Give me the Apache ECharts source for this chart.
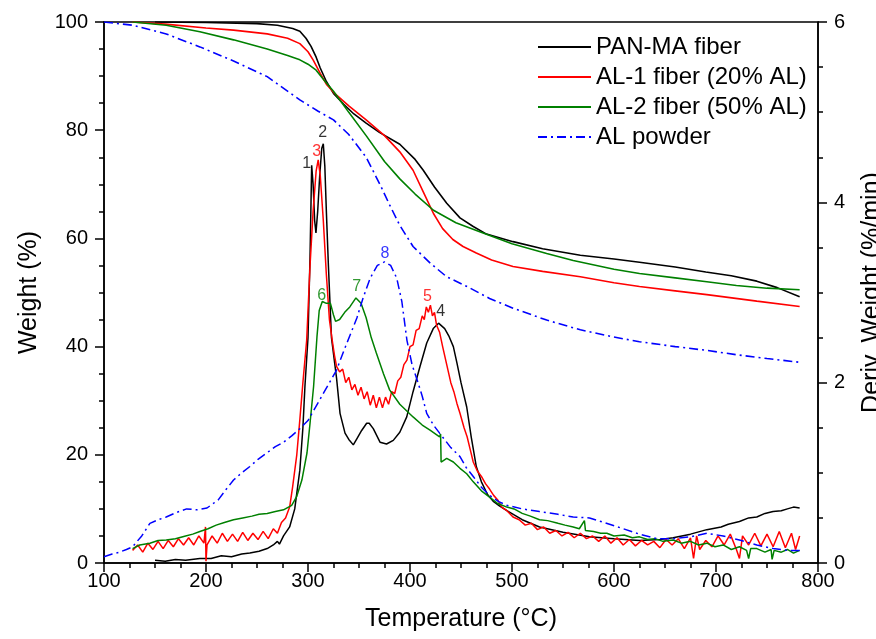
<!DOCTYPE html>
<html><head><meta charset="utf-8">
<script src="https://cdn.jsdelivr.net/npm/echarts@6/dist/echarts.min.js"></script>
<style>html,body{margin:0;padding:0;background:#fff}#c{width:876px;height:639px}</style>
</head><body><div id="c"></div>
<script>
// ---- data ----
const sampleNames = ['PAN-MA fiber', 'AL-1 fiber (20% AL)', 'AL-2 fiber (50% AL)', 'AL powder'];
const xTickValues = [100, 200, 300, 400, 500, 600, 700, 800];
const weightTickValues = [0, 20, 40, 60, 80, 100];
const derivTickValues = [0, 2, 4, 6];

// Weight (%) vs temperature (°C)
const panWeight = [[150,100],[200,99.9],[250,99.7],[270,99.4],[285,98.8],[292,98.3],[298,97],[303,95.5],[308,93.5],[312,91.5],[318,89],[325,86.8],[335,84.8],[345,83],[357,81.3],[370,79.6],[390,77.4],[405,74.6],[413,72.6],[424,69.5],[436,66.5],[449,63.8],[462,62.2],[475,60.8],[501,59.4],[530,58.1],[567,56.9],[600,56.2],[625,55.6],[660,54.7],[690,53.8],[715,53.1],[740,52.1],[760,50.9],[782,49.2]];
const al1Weight = [[128,100],[160,99.6],[200,98.9],[227,98.5],[260,97.8],[280,97],[292,96],[300,94.5],[305,93],[312,90.5],[318,88.5],[325,87],[340,84.5],[357,81.9],[375,79],[390,76],[403,72.6],[413,68.6],[423,64.6],[432,61.8],[442,59.8],[452,58.5],[465,57.3],[480,56.0],[501,54.8],[530,53.9],[567,52.9],[600,51.8],[625,51.1],[660,50.3],[691,49.6],[740,48.4],[782,47.4]];
const al2Weight = [[128,100],[161,99.4],[194,98.2],[227,96.7],[260,95],[280,93.8],[292,93],[300,92.2],[308,91.1],[316,89.2],[325,87.2],[340,83.3],[357,79.0],[375,74.2],[390,71],[405,68.2],[423,65.2],[445,62.9],[469,61.2],[500,59],[534,57.2],[560,55.9],[600,54.3],[625,53.5],[660,52.7],[691,52],[720,51.3],[750,50.8],[782,50.5]];
const alpWeight = [[100,100],[128,99.4],[161,97.8],[194,95.4],[227,92.8],[260,89.9],[292,85.6],[310,83.5],[325,81.9],[340,79.2],[357,75.0],[371,69.8],[380,66.2],[390,62.4],[403,58.5],[420,55.4],[436,52.9],[456,51.1],[478,48.9],[501,47.1],[534,44.9],[567,43.1],[599,41.8],[625,40.9],[660,40.0],[691,39.3],[720,38.5],[750,37.8],[782,37.1]];

// Derivative weight (%/min) vs temperature (°C)
const panDeriv = [[150,0.03],[160,0.02],[170,0.04],[180,0.03],[194,0.05],[205,0.05],[215,0.08],[225,0.07],[235,0.1],[243,0.11],[252,0.13],[260,0.16],[266,0.2],[270,0.24],[272,0.21],[276,0.3],[282,0.4],[287,0.6],[292,1.03],[295,1.5],[297,1.96],[300,2.5],[302,3.4],[303.6,4.41],[305,4.2],[306.5,3.8],[307.8,3.66],[309.5,3.9],[311.5,4.3],[313.5,4.6],[315,4.65],[316.5,4.4],[318,3.9],[320,3.3],[323,2.5],[328,2.05],[331.4,1.66],[336.3,1.44],[340,1.37],[344.4,1.31],[348,1.38],[352.6,1.47],[357.5,1.55],[360,1.55],[364,1.49],[370.6,1.34],[377,1.32],[383.6,1.36],[390,1.45],[396.8,1.62],[403,1.9],[409.8,2.18],[416.4,2.44],[422.8,2.6],[428,2.66],[434,2.6],[438,2.52],[442.5,2.4],[446,2.22],[450,2.0],[455.6,1.73],[460,1.4],[465,1.07],[470,0.9],[476,0.76],[482,0.68],[488,0.63],[495,0.58],[510,0.48],[527,0.4],[550,0.34],[576,0.29],[600,0.27],[625,0.25],[645,0.26],[658,0.28],[675,0.32],[691,0.37],[705,0.4],[712,0.43],[723,0.46],[732,0.5],[740,0.51],[748,0.55],[756,0.57],[764,0.58],[770,0.6],[776,0.62],[782,0.61]];
const al1Deriv = [[128,0.14],[133,0.2],[138,0.12],[143,0.22],[148,0.15],[153,0.24],[158,0.16],[163,0.25],[168,0.18],[173,0.27],[178,0.2],[183,0.28],[188,0.2],[193,0.3],[198,0.22],[199.5,0.4],[200,0.02],[201,0.2],[206,0.3],[211,0.22],[216,0.33],[221,0.24],[226,0.32],[231,0.24],[236,0.34],[241,0.25],[246,0.33],[251,0.26],[256,0.35],[261,0.27],[266,0.38],[270,0.33],[274,0.45],[278,0.5],[282,0.62],[285,0.85],[289,1.2],[292,1.59],[295,2.0],[298.7,2.47],[302,3.3],[305,3.9],[308,4.35],[310,4.47],[312,4.3],[315,3.8],[318,3.2],[321,2.7],[324,2.45],[326,2.3],[328,2.18],[331,2.12],[334,2.15],[337,2.0],[340,2.06],[343,1.92],[346,1.98],[349,1.86],[352,1.95],[355,1.82],[358,1.9],[361,1.75],[364,1.86],[367,1.72],[370,1.84],[373,1.72],[376,1.84],[379,1.76],[382,1.9],[385,1.88],[388,2.02],[391,2.06],[394,2.2],[397,2.25],[400,2.4],[403,2.42],[406,2.58],[409,2.6],[412,2.74],[414,2.7],[416,2.84],[418,2.78],[420,2.86],[422,2.74],[424,2.78],[426,2.64],[429,2.56],[432,2.4],[436,2.2],[440,2.0],[443,1.9],[446,1.77],[449,1.66],[453,1.5],[456,1.4],[459,1.26],[462,1.12],[466,1.02],[470,0.96],[474,0.88],[478,0.82],[482,0.75],[486,0.7],[490,0.62],[495,0.58],[501,0.51],[507,0.48],[513,0.42],[519,0.44],[525,0.37],[531,0.4],[537,0.33],[543,0.36],[549,0.3],[555,0.34],[561,0.28],[567,0.33],[573,0.27],[579,0.3],[585,0.24],[591,0.3],[597,0.22],[603,0.28],[609,0.2],[615,0.26],[621,0.19],[627,0.25],[633,0.2],[639,0.24],[645,0.17],[651,0.26],[657,0.2],[663,0.27],[669,0.16],[675,0.28],[678,0.05],[681,0.3],[684,0.15],[690,0.25],[696,0.18],[702,0.3],[708,0.2],[714,0.32],[720,0.15],[723,0.05],[726,0.3],[732,0.2],[738,0.33],[744,0.19],[750,0.32],[756,0.18],[762,0.35],[768,0.17],[774,0.33],[778,0.15],[782,0.3]];
const al2Deriv = [[128,0.16],[135,0.2],[145,0.22],[153,0.25],[161,0.255],[170,0.27],[180,0.3],[187,0.32],[194,0.35],[202,0.38],[210,0.42],[218,0.45],[227,0.48],[236,0.5],[245,0.52],[252,0.54],[260,0.55],[268,0.57],[276,0.59],[284,0.64],[289,0.74],[294,0.92],[299,1.22],[302,1.55],[305.5,1.96],[308.8,2.51],[311,2.8],[314,2.9],[318,2.88],[322,2.88],[325,2.75],[327,2.68],[331,2.7],[336,2.78],[341,2.84],[347,2.94],[352,2.88],[357,2.72],[362,2.5],[367,2.33],[374,2.1],[380,1.92],[390,1.76],[403,1.62],[412,1.53],[420,1.47],[429,1.4],[430,1.43],[430.5,1.12],[436,1.16],[442.5,1.12],[449,1.05],[455.6,0.99],[462,0.9],[470,0.8],[478,0.73],[486,0.66],[495,0.62],[502,0.6],[510,0.55],[518,0.52],[527,0.48],[535,0.47],[545,0.44],[552,0.42],[560,0.4],[566,0.38],[571,0.47],[572,0.36],[580,0.35],[587,0.33],[593,0.33],[600,0.3],[610,0.31],[618,0.28],[625,0.29],[633,0.26],[640,0.27],[648,0.24],[658,0.255],[666,0.22],[675,0.24],[683,0.2],[691,0.22],[699,0.18],[707,0.2],[715,0.15],[723,0.18],[730,0.14],[732,0.05],[734,0.16],[740,0.16],[748,0.12],[754,0.15],[755,0.04],[757,0.14],[764,0.12],[770,0.15],[776,0.11],[782,0.14]];
const alpDeriv = [[100,0.07],[108,0.1],[115,0.12],[122,0.15],[128,0.18],[137,0.3],[145,0.44],[153,0.48],[161,0.51],[171,0.56],[181,0.6],[191,0.59],[201,0.61],[212,0.7],[220,0.82],[227,0.92],[235,1.0],[243,1.07],[251,1.15],[259.5,1.22],[268,1.29],[276,1.34],[284,1.41],[292,1.49],[300,1.58],[308,1.74],[316,1.9],[328,2.14],[335,2.35],[341,2.52],[348,2.72],[354,2.94],[361,3.16],[368,3.3],[375,3.34],[381,3.3],[387,3.16],[392,2.9],[397,2.47],[402,2.2],[407,2.03],[412,1.85],[416.4,1.66],[423,1.53],[429,1.44],[440,1.28],[449,1.18],[455,1.06],[462,0.96],[470,0.84],[478,0.75],[487,0.68],[495,0.64],[510,0.6],[527,0.57],[545,0.54],[560,0.51],[576,0.5],[590,0.45],[609,0.38],[625,0.32],[642,0.27],[658,0.27],[675,0.29],[691,0.33],[707,0.3],[723,0.255],[740,0.2],[756,0.16],[770,0.14],[782,0.14]];

// Peak numbers (temperature, deriv. weight, text)
const panPeaks = [[298.7,4.43,'1'],[314.4,4.77,'2'],[430.1,2.79,'4']];
const al1Peaks = [[308.5,4.56,'3'],[417,2.95,'5']];
const al2Peaks = [[313.4,2.97,'6'],[347.7,3.07,'7']];
const alpPeaks = [[375.5,3.43,'8']];

// ---- chart ----
const colors = ['#000000', '#ff0000', '#008000', '#0000ff'];
const dashDot = [9, 4, 2, 4];
const FONT = 'Liberation Sans, Arial, sans-serif';
const weights = [panWeight, al1Weight, al2Weight, alpWeight];
const derivs = [panDeriv, al1Deriv, al2Deriv, alpDeriv];
const peaks = [panPeaks, al1Peaks, al2Peaks, alpPeaks];

const series = [];
sampleNames.forEach((name, i) => {
  const ls = { color: colors[i], width: 1.6, type: i === 3 ? dashDot : 'solid' };
  series.push({ name, type: 'line', xAxisIndex: 0, yAxisIndex: 0, data: weights[i], showSymbol: false, symbol: 'none', lineStyle: ls, itemStyle: { color: colors[i] }, z: 3 });
  series.push({ name, type: 'line', xAxisIndex: 0, yAxisIndex: 1, data: derivs[i], showSymbol: false, symbol: 'none', lineStyle: Object.assign({}, ls, { width: 1.5 }), itemStyle: { color: colors[i] }, z: 2 });
  series.push({ name: 'peaks' + i, type: 'scatter', xAxisIndex: 0, yAxisIndex: 1, data: peaks[i], symbolSize: 0, silent: true,
    label: { show: true, position: 'inside', formatter: p => p.value[2], color: colors[i], fontSize: 16, fontFamily: FONT }, z: 5 });
});

const axisLineStyle = { color: '#000', width: 1.5 };
const chart = echarts.init(document.getElementById('c'), null, { renderer: 'canvas' });
chart.setOption({
  animation: false,
  backgroundColor: '#fff',
  grid: { left: 104, right: 58, top: 22, bottom: 76, show: true, borderColor: '#000', borderWidth: 1.5, outerBoundsMode: 'none', containLabel: false },
  legend: {
    data: sampleNames, left: 532, top: 30, orient: 'vertical', itemWidth: 53, itemHeight: 14, itemGap: 6,
    itemStyle: { opacity: 0 },
    textStyle: { fontSize: 24, fontFamily: FONT, color: '#000', lineHeight: 24 }
  },
  xAxis: [{
    type: 'value', min: 100, max: 800, interval: 100, position: 'bottom',
    name: 'Temperature (°C)', nameLocation: 'middle', nameGap: 44,
    nameTextStyle: { fontSize: 25, fontFamily: FONT, color: '#000' },
    axisLine: { show: true, onZero: false, lineStyle: axisLineStyle },
    axisTick: { show: true, inside: false, length: 9, lineStyle: axisLineStyle },
    minorTick: { show: true, splitNumber: 4, length: 5, lineStyle: { color: '#000', width: 1.5 } },
    splitLine: { show: false },
    axisLabel: { fontSize: 20, fontFamily: FONT, color: '#000', margin: 8 }
  }],
  yAxis: [{
    type: 'value', min: 0, max: 100, interval: 20, position: 'left',
    name: 'Weight (%)', nameLocation: 'middle', nameGap: 62, nameRotate: 90,
    nameTextStyle: { fontSize: 25, fontFamily: FONT, color: '#000' },
    axisLine: { show: true, onZero: false, lineStyle: axisLineStyle },
    axisTick: { show: true, inside: false, length: 9, lineStyle: axisLineStyle },
    minorTick: { show: true, splitNumber: 4, length: 5, lineStyle: { color: '#000', width: 1.5 } },
    splitLine: { show: false },
    axisLabel: { fontSize: 20, fontFamily: FONT, color: '#000', margin: 16 }
  }, {
    type: 'value', min: 0, max: 6, interval: 2, position: 'right',
    name: 'Deriv. Weight (%/min)', nameLocation: 'middle', nameGap: 42, nameRotate: 90,
    nameTextStyle: { fontSize: 25, fontFamily: FONT, color: '#000' },
    axisLine: { show: true, onZero: false, lineStyle: axisLineStyle },
    axisTick: { show: true, inside: false, length: 9, lineStyle: axisLineStyle },
    minorTick: { show: true, splitNumber: 4, length: 5, lineStyle: { color: '#000', width: 1.5 } },
    splitLine: { show: false },
    axisLabel: { fontSize: 20, fontFamily: FONT, color: '#000', margin: 16 }
  }],
  series
});
</script>
</body></html>
